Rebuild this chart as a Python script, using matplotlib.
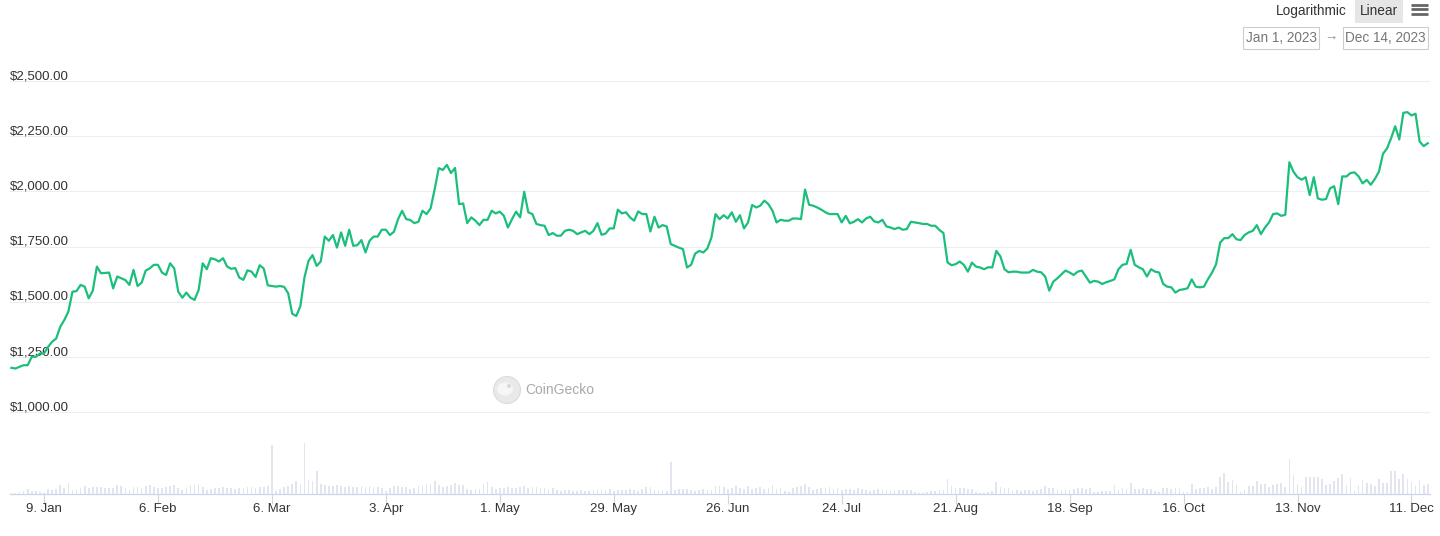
import matplotlib
matplotlib.use('Agg')
import matplotlib.pyplot as plt
import matplotlib.dates as mdates
import pandas as pd
from matplotlib.patches import Rectangle, Circle, Ellipse
from matplotlib.lines import Line2D

plt.rcParams['font.family'] = ['Liberation Sans', 'DejaVu Sans']

# ---------------- data ----------------
price_jan = [1200, 1197, 1205, 1212, 1212, 1250, 1250, 1265, 1265, 1295, 1318, 1333, 1386, 1417, 1455,
             1545, 1548, 1576, 1568, 1515, 1550, 1659, 1629, 1630, 1632, 1560, 1614, 1606, 1598, 1576, 1644]
price_feb = [1571, 1586, 1641, 1651, 1667, 1667, 1632, 1621, 1674, 1651, 1545, 1518, 1541, 1518, 1508,
             1553, 1674, 1647, 1697, 1692, 1682, 1697, 1659, 1649, 1652, 1609, 1599, 1642]
price_mar = [1636, 1612, 1665, 1650, 1574, 1571, 1568, 1571, 1567, 1538, 1445, 1435, 1480, 1609, 1685,
             1711, 1662, 1682, 1795, 1776, 1802, 1745, 1814, 1753, 1826, 1753, 1756, 1779, 1723, 1776, 1795]
price_apr = [1795, 1826, 1826, 1802, 1817, 1874, 1912, 1874, 1870, 1856, 1862, 1912, 1897, 1923, 2010,
             2105, 2097, 2120, 2083, 2106, 1942, 1945, 1856, 1882, 1867, 1847, 1871, 1871, 1912, 1900]
price_may = [1908, 1889, 1836, 1874, 1908, 1882, 1998, 1905, 1897, 1852, 1847, 1844, 1802, 1811, 1799,
             1799, 1821, 1826, 1821, 1806, 1814, 1821, 1806, 1821, 1856, 1803, 1809, 1832, 1832, 1917, 1900]
price_jun = [1905, 1882, 1867, 1909, 1897, 1897, 1818, 1885, 1836, 1847, 1841, 1761, 1753, 1745, 1738,
             1655, 1667, 1718, 1730, 1723, 1741, 1791, 1897, 1874, 1892, 1877, 1905, 1862, 1892, 1832]
price_jul = [1859, 1938, 1927, 1935, 1958, 1942, 1912, 1859, 1871, 1867, 1867, 1877, 1877, 1874, 2008,
             1939, 1935, 1927, 1917, 1905, 1897, 1897, 1897, 1859, 1889, 1855, 1862, 1874, 1859, 1877, 1885]
price_aug = [1864, 1859, 1871, 1841, 1836, 1829, 1836, 1826, 1829, 1862, 1859, 1856, 1852, 1852, 1844,
             1844, 1825, 1811, 1678, 1665, 1670, 1682, 1667, 1636, 1677, 1659, 1655, 1647, 1656, 1655, 1730]
price_sep = [1705, 1647, 1633, 1636, 1636, 1632, 1632, 1632, 1644, 1636, 1633, 1614, 1550, 1591, 1606,
             1624, 1641, 1632, 1621, 1636, 1641, 1614, 1586, 1594, 1591, 1580, 1588, 1594, 1601, 1647]
price_oct = [1667, 1671, 1735, 1667, 1656, 1647, 1614, 1647, 1636, 1632, 1580, 1568, 1565, 1541, 1553,
             1556, 1561, 1601, 1568, 1565, 1568, 1602, 1632, 1670, 1768, 1788, 1788, 1806, 1783, 1779, 1802]
price_nov = [1814, 1821, 1847, 1806, 1836, 1859, 1897, 1900, 1889, 1894, 2132, 2089, 2064, 2053, 2064,
             1983, 2064, 1968, 1962, 1965, 2014, 2023, 1942, 2068, 2067, 2083, 2086, 2068, 2036, 2052]
price_dec = [2030, 2056, 2089, 2170, 2195, 2241, 2295, 2235, 2356, 2359, 2344, 2352, 2226, 2205, 2218]

vol_jan = [1, 1, 2, 3, 5, 3, 3, 2, 1, 5, 4, 5, 9, 6, 11, 4, 5, 6, 8, 6, 7, 7, 7, 6, 6, 6, 9, 8, 6, 4, 7]
vol_feb = [7, 6, 8, 9, 7, 6, 6, 7, 8, 9, 6, 4, 6, 9, 9, 10, 7, 4, 5, 6, 6, 7, 6, 6, 5, 6, 6, 7]
vol_mar = [7, 6, 7, 7, 8, 49, 3, 5, 7, 8, 10, 13, 10, 51, 14, 13, 23, 10, 9, 8, 8, 9, 8, 7, 8, 7, 7, 8, 7, 8, 7]
vol_apr = [7, 6, 3, 6, 8, 8, 7, 7, 5, 6, 8, 9, 10, 10, 13, 9, 7, 8, 9, 11, 9, 9, 5, 4, 5, 5, 10, 12, 7, 5]
vol_may = [6, 6, 7, 6, 6, 7, 8, 6, 7, 7, 6, 6, 5, 6, 4, 3, 4, 4, 3, 3, 4, 3, 3, 4, 5, 5, 4, 5, 3, 4, 4]
vol_jun = [4, 5, 4, 3, 5, 7, 7, 4, 3, 4, 3, 32, 4, 5, 5, 5, 4, 3, 4, 5, 4, 4, 8, 8, 7, 5, 6, 8, 6, 5]
vol_jul = [8, 5, 6, 7, 5, 6, 9, 5, 6, 3, 2, 6, 7, 8, 10, 7, 4, 5, 6, 6, 7, 5, 6, 4, 5, 5, 4, 6, 5, 4, 3]
vol_aug = [4, 5, 5, 4, 3, 3, 4, 4, 4, 4, 2, 1, 1, 2, 3, 3, 4, 4, 15, 8, 6, 6, 6, 5, 5, 2, 1, 1, 2, 3, 12]
vol_sep = [7, 6, 6, 3, 4, 3, 4, 4, 3, 4, 5, 8, 6, 6, 5, 4, 5, 4, 5, 6, 6, 5, 6, 2, 2, 3, 3, 3, 9, 4]
vol_oct = [6, 5, 11, 5, 5, 6, 5, 5, 3, 2, 6, 6, 5, 6, 6, 2, 2, 10, 5, 6, 6, 7, 5, 7, 17, 21, 12, 14, 9, 2, 4]
vol_nov = [8, 8, 13, 10, 10, 7, 9, 10, 11, 7, 35, 19, 10, 7, 17, 17, 17, 17, 15, 9, 10, 13, 16, 20, 9, 16, 3, 9, 14, 11]
vol_dec = [10, 8, 15, 11, 11, 23, 23, 15, 20, 15, 12, 8, 14, 9, 10]

prices = (price_jan + price_feb + price_mar + price_apr + price_may + price_jun +
          price_jul + price_aug + price_sep + price_oct + price_nov + price_dec)
volumes_bn = (vol_jan + vol_feb + vol_mar + vol_apr + vol_may + vol_jun +
              vol_jul + vol_aug + vol_sep + vol_oct + vol_nov + vol_dec)

y_ticks = [1000, 1250, 1500, 1750, 2000, 2250, 2500]
x_tick_dates = ['2023-01-09', '2023-02-06', '2023-03-06', '2023-04-03', '2023-05-01', '2023-05-29',
                '2023-06-26', '2023-07-24', '2023-08-21', '2023-09-18', '2023-10-16', '2023-11-13',
                '2023-12-11']
x_tick_labels = ['9. Jan', '6. Feb', '6. Mar', '3. Apr', '1. May', '29. May', '26. Jun', '24. Jul',
                 '21. Aug', '18. Sep', '16. Oct', '13. Nov', '11. Dec']

# ---------------- layout ----------------
W, H = 1440, 536
fig = plt.figure(figsize=(W / 100, H / 100), dpi=100)
fig.patch.set_facecolor('white')


def rect(x0, y0, x1, y1):
    return [x0 / W, 1 - y1 / H, (x1 - x0) / W, (y1 - y0) / H]


dates = pd.date_range('2023-01-01', periods=len(prices), freq='D')
t0 = mdates.date2num(pd.Timestamp('2023-01-01'))
px_per_day = 4.07
first_px = 11.4
L, R = 10, 1430
xlim = (t0 + (L - first_px) / px_per_day, t0 + (R - first_px) / px_per_day)

LINE = '#1bbf7b'
TXT = '#333333'

# price axes
top_px, bot_px = 70, 420
px_per_usd = 55 / 250
ymin = 1000 - (bot_px - 412) / px_per_usd
ymax = 2500 + (81 - top_px) / px_per_usd
ax = fig.add_axes(rect(L, top_px, R, bot_px))
ax.set_xlim(xlim)
ax.set_ylim(ymin, ymax)
ax.axis('off')
for v in y_ticks:
    ax.axhline(v, color='#eceef2', lw=0.8, zorder=0)
    ax.annotate(f'${v:,.2f}', xy=(0, v), xycoords=('axes fraction', 'data'),
                xytext=(0, 1.3), textcoords='offset points', ha='left', va='baseline',
                fontsize=9.5, color=TXT)
ax.plot(dates, prices, color=LINE, lw=1.6, solid_joinstyle='round', zorder=3)

# volume axes
axv = fig.add_axes(rect(L, 430, R, 494))
axv.set_facecolor('none')
axv.bar(dates, volumes_bn, width=0.42, color='#e3e5ee', align='center', zorder=1)
axv.set_xlim(xlim)
axv.set_ylim(0, 64)
for s in ['top', 'left', 'right']:
    axv.spines[s].set_visible(False)
axv.spines['bottom'].set_color('#ccd6eb')
axv.spines['bottom'].set_linewidth(0.9)
axv.set_yticks([])
axv.set_xticks([mdates.date2num(pd.Timestamp(d)) for d in x_tick_dates])
axv.set_xticklabels(x_tick_labels)
axv.tick_params(axis='x', length=7.5, width=0.8, color='#ccd6eb', labelsize=9.5,
                labelcolor=TXT, pad=-0.8)

# watermark
fig.add_artist(Circle((507 / 100, (H - 390) / 100), 0.135, transform=fig.dpi_scale_trans,
                      facecolor='#e9e9e9', edgecolor='#dcdcdc', lw=0.8, zorder=5))
fig.add_artist(Ellipse((505 / 100, (H - 389) / 100), 0.16, 0.13, transform=fig.dpi_scale_trans,
                       facecolor='#f6f6f6', edgecolor='none', zorder=6))
fig.add_artist(Circle((509 / 100, (H - 386) / 100), 0.02, transform=fig.dpi_scale_trans,
                      facecolor='#d8d8d8', edgecolor='none', zorder=7))
fig.text(525 / W, 1 - 390 / H, 'CoinGecko', fontsize=10, color='#a9a9a9', ha='left', va='center')

# top-right controls
fig.text(1276 / W, 1 - 11 / H, 'Logarithmic', fontsize=9.8, color=TXT, ha='left', va='center')
fig.add_artist(Rectangle((1355 / W, 1 - 22.5 / H), 48 / W, 22.5 / H, transform=fig.transFigure,
                         facecolor='#e6e6e6', edgecolor='none'))
fig.text(1379 / W, 1 - 11 / H, 'Linear', fontsize=9.8, color=TXT, ha='center', va='center')
for yy in [4.5, 9, 13.5]:
    fig.add_artist(Line2D([1411 / W, 1428 / W], [1 - yy / H, 1 - yy / H], transform=fig.transFigure,
                          color='#666666', lw=2.0, solid_capstyle='butt'))

for (x0, x1, label) in [(1243, 1319, 'Jan 1, 2023'), (1343, 1428, 'Dec 14, 2023')]:
    fig.add_artist(Rectangle((x0 / W, 1 - 49 / H), (x1 - x0) / W, 22 / H, transform=fig.transFigure,
                             facecolor='white', edgecolor='#cccccc', lw=0.8))
    fig.text((x0 + x1) / 2 / W, 1 - 38 / H, label, fontsize=9.8, color='#777777',
             ha='center', va='center')
fig.text(1331 / W, 1 - 38 / H, '\u2192', fontsize=9.5, color='#888888', ha='center', va='center')

fig.savefig('out.png', dpi=100, facecolor='white')
